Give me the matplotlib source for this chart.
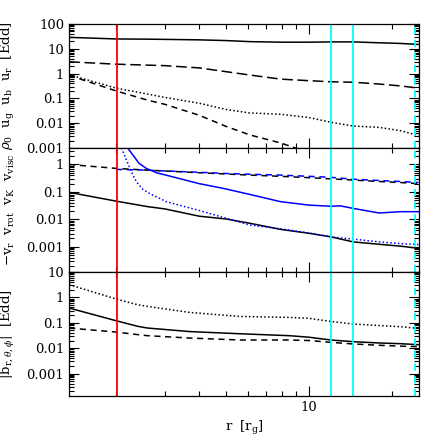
import numpy as np
import matplotlib
matplotlib.use("Agg")
import matplotlib.pyplot as plt
from matplotlib.ticker import LogLocator, FuncFormatter, NullFormatter

plt.rcParams["font.family"] = ["DejaVu Serif"]
plt.rcParams["mathtext.fontset"] = "dejavuserif"

# ---------------- data ----------------
R_MIN, R_MAX = 1.348, 25.1
R_ISCO = 2.02
R_CYAN = [12.0, 14.5]
R_CYAN_DASH = 24.2

# panel 1: energy densities
r_p1 = [1.35, 2.0, 2.6, 3.0, 4.0, 5.0, 6.1, 7.9, 10, 12, 14.5, 18, 21.5, 25]
u_r = [29, 25, 24.5, 24, 23, 21.5, 19.5, 18.5, 18.5, 19, 19, 17.5, 16.5, 15]
u_b = [3.0, 2.4, 2.2, 2.1, 1.7, 1.2, 0.88, 0.6, 0.52, 0.47, 0.45, 0.38, 0.32, 0.26]
u_g = [0.9, 0.26, 0.15, 0.11, 0.064, 0.036, 0.026, 0.023, 0.017, 0.011, 0.0077,
       0.0068, 0.005, 0.0032]
r_rho = [1.35, 2.0, 2.6, 3.0, 4.0, 5.0, 6.1, 7.9, 9.5]
rho0 = [0.85, 0.2, 0.085, 0.058, 0.021, 0.0075, 0.0034, 0.0016, 0.0008]

# panel 2: velocities
r_p2 = [1.35, 2.0, 2.6, 3.0, 4.0, 5.0, 6.1, 7.9, 10, 12, 14.5, 18, 21.5, 25]
v_r = [0.096, 0.046, 0.029, 0.024, 0.013, 0.0103, 0.0072, 0.0043, 0.0031, 0.0023,
       0.0015, 0.00123, 0.00105, 0.00088]
v_k = [1.0, 0.72, 0.62, 0.58, 0.5, 0.45, 0.41, 0.37, 0.33, 0.3, 0.27, 0.24, 0.22, 0.2]
r_rot = [2.0, 2.6, 3.0, 4.0, 5.0, 6.1, 7.9, 10, 12, 14.5, 18, 21.5, 25]
v_rot = [0.66, 0.62, 0.58, 0.52, 0.47, 0.44, 0.41, 0.37, 0.34, 0.29, 0.26, 0.24, 0.22]
r_visc = [2.2, 2.3, 2.42, 2.57, 2.8, 3.0, 4.0, 4.9, 6.1, 7.9, 10, 12, 13, 14.5, 18,
          21.5, 25]
v_visc = [4.0, 2.2, 1.1, 0.72, 0.5, 0.42, 0.2, 0.134, 0.081, 0.044, 0.033, 0.030,
          0.031, 0.025, 0.017, 0.019, 0.019]
r_vdot = [2.09, 2.18, 2.23, 2.3, 2.37, 2.5, 2.64, 3.04, 4.0, 6.1, 7.9, 10, 12, 14.5,
          18, 21.5, 25]
v_dot = [4.0, 1.43, 0.82, 0.41, 0.23, 0.123, 0.088, 0.044, 0.021, 0.0062, 0.0045,
         0.0032, 0.0023, 0.0019, 0.0015, 0.0013, 0.0012]

# panel 3: field components
r_p3 = [1.35, 2.0, 2.4, 2.6, 3.7, 5.6, 8.5, 10, 12, 14.5, 18, 21.5, 25]
b_r = [3.16, 0.86, 0.51, 0.44, 0.255, 0.178, 0.162, 0.15, 0.113, 0.089, 0.078,
       0.07, 0.06]
b_th = [0.38, 0.12, 0.072, 0.062, 0.045, 0.037, 0.031, 0.027, 0.021, 0.018, 0.016,
        0.015, 0.0137]
b_ph = [0.062, 0.043, 0.034, 0.031, 0.025, 0.021, 0.021, 0.02, 0.017, 0.0146,
        0.013, 0.012, 0.0115]

YLIMS = [(0.001, 100), (1.2e-4, 4), (1.3e-4, 10)]
YLABELS = [
    r"$\rho_0\ \ \mathrm{u_g\ \ u_b\ \ u_r\ \ [Edd]}$",
    r"$\mathrm{-v_r\ \ v_{rot}\ \ v_K\ \ v_{visc}}$",
    r"$\mathrm{|b}_{\mathrm{r},\theta,\phi}\mathrm{|\ \ [Edd]}$",
]

LONG_DASH = (0, (7, 3))
SHORT_DASH = (0, (4, 3))
DOT = (0, (1, 1.5))


def style_axis(ax, ylim, ylabel, show_x):
    ax.set_xscale("log")
    ax.set_yscale("log")
    ax.set_xlim(R_MIN, R_MAX)
    ax.set_ylim(*ylim)
    ax.yaxis.set_major_locator(LogLocator(base=10, numticks=12))
    ax.yaxis.set_minor_locator(LogLocator(base=10, subs=np.arange(2, 10), numticks=12))
    ax.yaxis.set_major_formatter(FuncFormatter(lambda v, p: f"{v:g}"))
    ax.yaxis.set_minor_formatter(NullFormatter())
    ax.xaxis.set_major_formatter(FuncFormatter(lambda v, p: f"{v:g}"))
    ax.xaxis.set_minor_formatter(NullFormatter())
    ax.tick_params(which="both", direction="in", top=True, right=True,
                   labelsize=9.5, width=0.8)
    ax.tick_params(which="major", length=7)
    ax.tick_params(which="minor", length=3.5)
    if not show_x:
        ax.tick_params(axis="x", labelbottom=False)
    ax.set_ylabel(ylabel, fontsize=9.5)
    ax.yaxis.set_label_coords(-0.15, 0.5)
    for sp in ax.spines.values():
        sp.set_linewidth(0.9)
    ax.axvline(R_ISCO, color="red", lw=1.3)
    for rc in R_CYAN:
        ax.axvline(rc, color="cyan", lw=1.3)
    ax.axvline(R_CYAN_DASH, color="cyan", lw=1.3, ls=(0, (4, 3)))


fig = plt.figure(figsize=(4.43, 4.43), dpi=100)
left, width = 0.1558, 0.79
tops = [0.9458, 0.666, 0.386]
h = 0.28
axes = [fig.add_axes([left, t - h, width, h]) for t in tops]

ax1, ax2, ax3 = axes
ax1.plot(r_p1, u_r, color="black", lw=1.1)
ax1.plot(r_p1, u_b, color="black", lw=1.1, ls=LONG_DASH)
ax1.plot(r_p1, u_g, color="black", lw=1.1, ls=DOT)
ax1.plot(r_rho, rho0, color="black", lw=1.1, ls=SHORT_DASH)

ax2.plot(r_p2, v_r, color="black", lw=1.1)
ax2.plot(r_p2, v_k, color="black", lw=1.1, ls=SHORT_DASH)
ax2.plot(r_rot, v_rot, color="blue", lw=1.1, ls=SHORT_DASH)
ax2.plot(r_visc, v_visc, color="blue", lw=1.1)
ax2.plot(r_vdot, v_dot, color="blue", lw=1.1, ls=DOT)

ax3.plot(r_p3, b_r, color="black", lw=1.1, ls=DOT)
ax3.plot(r_p3, b_th, color="black", lw=1.1)
ax3.plot(r_p3, b_ph, color="black", lw=1.1, ls=SHORT_DASH)

for i, ax in enumerate(axes):
    style_axis(ax, YLIMS[i], YLABELS[i], show_x=(i == 2))

ax3.set_xlabel(r"$\mathrm{r\ \ [r_g]}$", fontsize=9.5)

fig.savefig("out.png", dpi=100)
